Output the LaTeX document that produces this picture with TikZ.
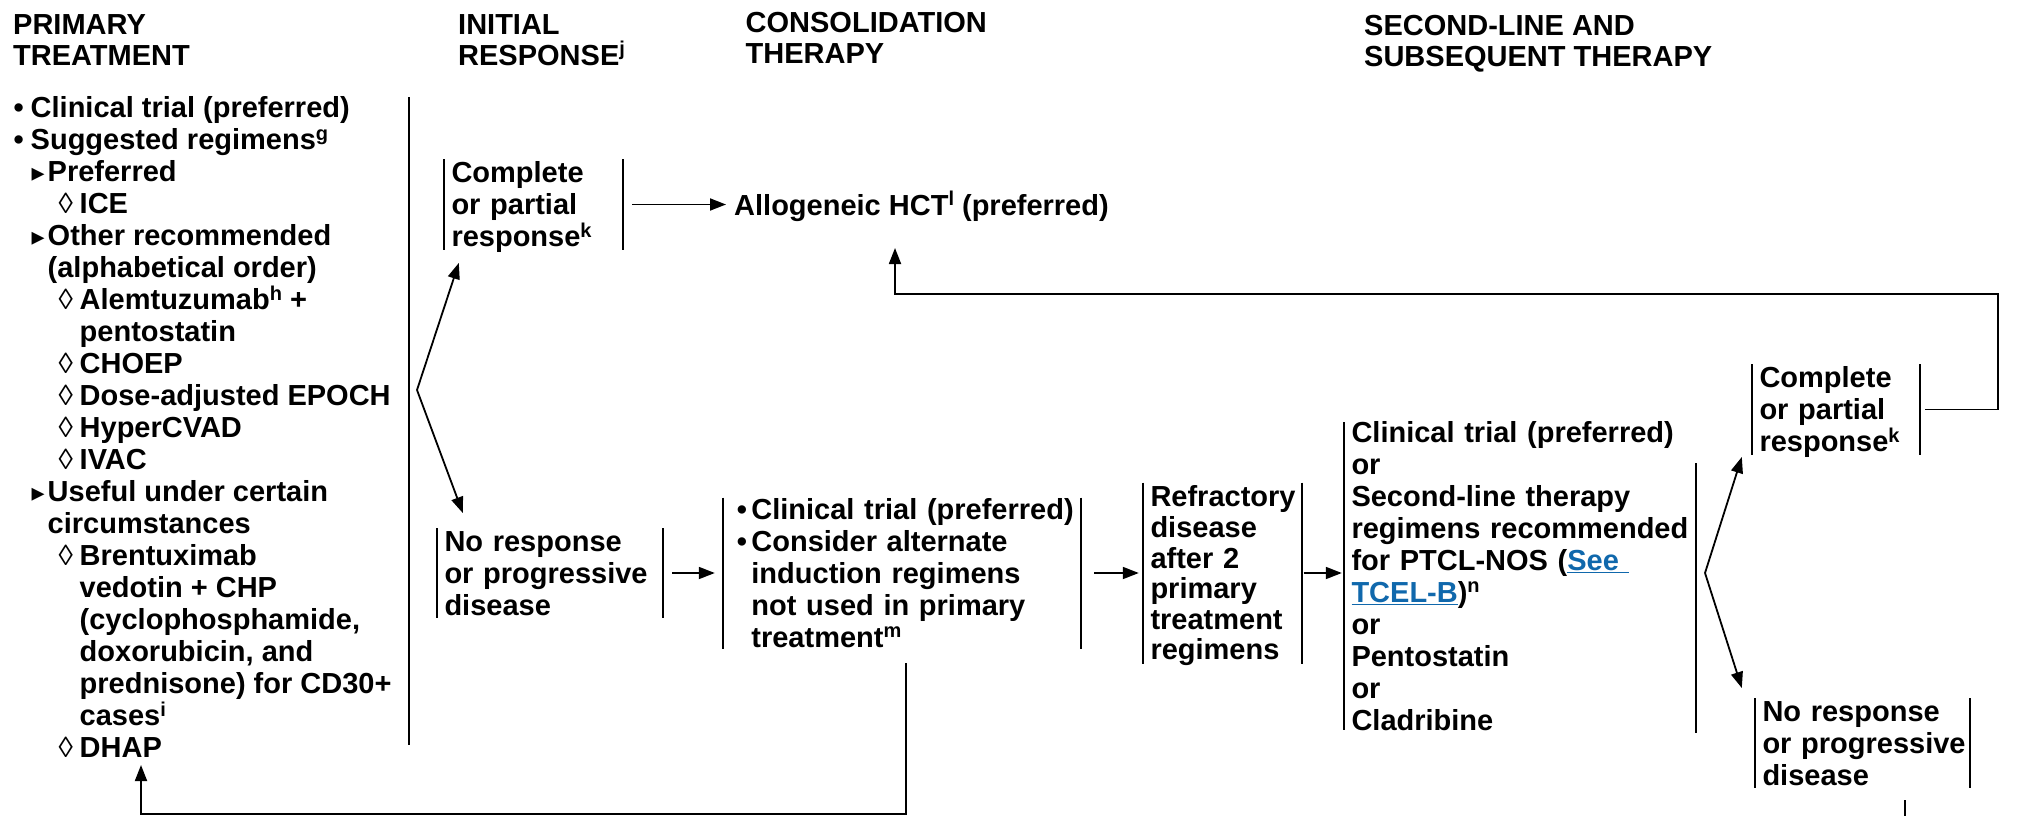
\documentclass[tikz,border=0pt]{standalone}
\usepackage{fontspec}
\setmainfont{Liberation Sans}
\newfontfamily\symfont{DejaVu Sans}
\usetikzlibrary{arrows.meta,calc}
\definecolor{linkblue}{RGB}{16,104,172}
% text sizes
\newcommand\bodyfont{\fontsize{29}{32}\selectfont\bfseries}
\newcommand\hdrfont{\fontsize{29}{31}\selectfont\bfseries}
% first-line and last-line struts keep multi-line blocks centred on their cap band
\newcommand\fs{\rightskip=-40pt plus 1fil\relax\rule{0pt}{27.3pt}}
\newcommand\ls{\rule[-6.5pt]{0pt}{6.5pt}}
\newcommand\sups[1]{\raisebox{9.5pt}{\fontsize{20}{20}\selectfont #1}}
\newcommand\lnk[1]{{\color{linkblue}\underline{#1}}}
% list markers
\newcommand\bul{\makebox[17pt][l]{•}}
\newcommand\cbul{\makebox[14.6pt][l]{•}}
\newcommand\tri{\makebox[16pt][l]{{\symfont\fontsize{26}{26}\selectfont ▸}}}
\newcommand\loz{\makebox[21pt][l]{{\mdseries ◊}}}
% side bars of a bracket box, #2 = bar length
\newcommand\bars[2]{\draw[barline] ($(#1.west)+(0,-#2/2)$) -- ($(#1.west)+(0,#2/2)$)
  ($(#1.east)+(0,-#2/2)$) -- ($(#1.east)+(0,#2/2)$);}
\tikzset{
  txt/.style={inner sep=0pt, align=left, font=\bodyfont, anchor=north west},
  bbox/.style={rectangle, inner xsep=7.5pt, inner ysep=0pt, align=left, font=\bodyfont},
  barline/.style={line width=2pt},
  link/.style={line width=1.8pt},
  arr/.style={line width=1.8pt, -{Triangle[length=16pt,width=12pt]}},
}
\begin{document}
\begin{tikzpicture}[x=1pt, y=-1pt]
\useasboundingbox (0,0) rectangle (2032,816);

% column headings
\node[txt, font=\hdrfont] (hprim) at (13,6.7) {\fs PRIMARY\\TREATMENT};
\node[txt, font=\hdrfont] (hinit) at (458,6.7) {\fs INITIAL\\RESPONSE\sups{j}};
\node[txt, font=\hdrfont] (hcons) at (745.5,4.7) {\fs CONSOLIDATION\\THERAPY};
\node[txt, font=\hdrfont] (hsec) at (1364,7.7) {\fs SECOND-LINE AND\\SUBSEQUENT THERAPY};

% primary treatment list
\node[txt] (prim) at (13.5,90.1) {\fs\bul Clinical trial (preferred)\\
\bul Suggested regimens\sups{g}\\
\hspace*{18pt}\tri Preferred\\
\hspace*{45pt}\loz ICE\\
\hspace*{18pt}\tri Other recommended\\
\hspace*{34pt}(alphabetical order)\\
\hspace*{45pt}\loz Alemtuzumab\sups{h} +\\
\hspace*{66pt}pentostatin\\
\hspace*{45pt}\loz CHOEP\\
\hspace*{45pt}\loz Dose-adjusted EPOCH\\
\hspace*{45pt}\loz HyperCVAD\\
\hspace*{45pt}\loz IVAC\\
\hspace*{18pt}\tri Useful under certain\\
\hspace*{34pt}circumstances\\
\hspace*{45pt}\loz Brentuximab\\
\hspace*{66pt}vedotin + CHP\\
\hspace*{66pt}(cyclophosphamide,\\
\hspace*{66pt}doxorubicin, and\\
\hspace*{66pt}prednisone) for CD30+\\
\hspace*{66pt}cases\sups{i}\\
\hspace*{45pt}\loz DHAP};
\coordinate (ptop) at (409,97);
\coordinate (pbot) at (409,745);
\draw[barline] (ptop) -- (pbot);
\coordinate (f1) at (417,390);

% initial response
\node[bbox, text width=164pt] (cpr1) at (533.5,204.5) {\fs Complete\\or partial\\response\sups{k}\ls};
\bars{cpr1}{91}
\node[bbox, text width=211pt] (nr1) at (550,573) {\fs No response\\or progressive\\disease\ls};
\bars{nr1}{90}

% consolidation
\node[font=\bodyfont, inner xsep=8pt, inner ysep=0pt, anchor=base west] (allo) at (726,215.4)
  {Allogeneic HCT\sups{l} (preferred)};
\node[bbox, text width=343pt] (cons) at (902,573) {\fs\hspace*{6.3pt}\cbul Clinical trial (preferred)\\
\hspace*{6.3pt}\cbul Consider alternate\\
\hspace*{20.9pt}induction regimens\\
\hspace*{20.9pt}not used in primary\\
\hspace*{20.9pt}treatment\sups{m}\ls};
\bars{cons}{151}

% second-line and subsequent therapy
\node[bbox, text width=144pt, font=\fontsize{29}{30.6}\selectfont\bfseries] (refr) at (1222.5,573)
  {\fs Refractory\\disease\\after 2\\primary\\treatment\\regimens\ls};
\bars{refr}{181}
\node[bbox, text width=337pt] (sl) at (1520,576) {\fs Clinical trial (preferred)\\
or\\
Second-line therapy\\
regimens recommended\\
for PTCL-NOS (\lnk{See }\\
\lnk{TCEL-B})\sups{n}\\
or\\
Pentostatin\\
or\\
Cladribine\ls};
\draw[barline] ($(sl.west)+(0,-154)$) -- ($(sl.west)+(0,154)$);
\draw[barline] ($(sl.east)+(0,-113)$) -- ($(sl.east)+(0,157)$);
\coordinate (f2) at (1705,573);
\node[bbox, text width=153pt] (cpr2) at (1836,409.5) {\fs Complete\\or partial\\response\sups{k}\ls};
\bars{cpr2}{91}
\node[bbox, text width=200pt] (nr2) at (1862.5,743) {\fs No response\\or progressive\\disease\ls};
\bars{nr2}{90}

% connectors
\draw[arr] (f1) -- ($(cpr1.west)+(15,58.5)$);
\draw[arr] (f1) -- ($(nr1.west)+(26,-60)$);
\draw[arr, shorten <=9pt] (cpr1.east) -- (cpr1.east -| allo.west);
\draw[arr, shorten <=9pt, shorten >=8pt] (nr1.east) -- (nr1.east -| cons.west);
\draw[arr, shorten <=13pt, shorten >=4pt] (cons.east) -- (cons.east -| refr.west);
\draw[arr, shorten <=1.5pt, shorten >=2pt] (refr.east) -- (refr.east -| sl.west);
\draw[arr] (f2) -- ($(cpr2.west)+(-10,47.5)$);
\draw[arr] (f2) -- ($(nr2.west)+(-13,-55)$);

% return paths
\coordinate (r1) at (1998,294);
\coordinate (t1) at (895,248);
\draw[arr] ($(cpr2.east)+(5,0)$) -| (r1) -| (t1);
\coordinate (bl) at (141,814);
\coordinate (dh) at (141,765);
\draw[arr] ($(cons.center)+(4,90)$) |- (bl) -- (dh);
\coordinate (nrtail) at (1905,830);
\draw[link] ($(nr2.center)+(42.5,57)$) -- (nrtail);
\end{tikzpicture}
\end{document}
